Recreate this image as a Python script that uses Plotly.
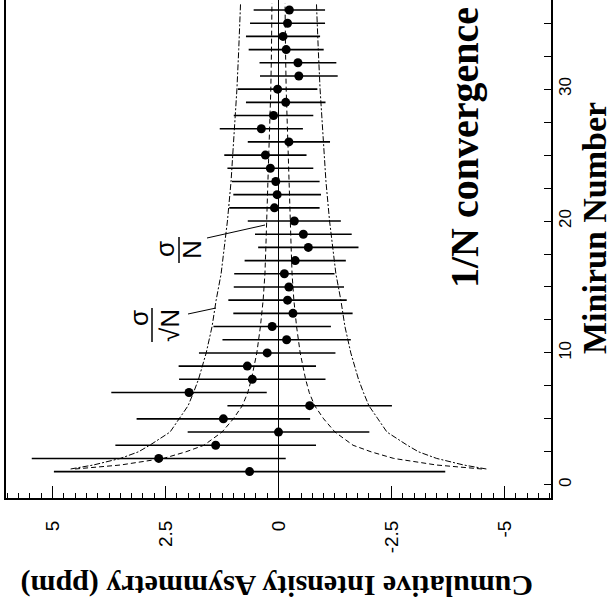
import plotly.graph_objects as go

# ---- data ----
minirun = list(range(1, 37))
asym = [0.64, 2.65, 1.39, 0.00, 1.22, -0.69, 1.98, 0.58, 0.69, 0.25,
        -0.18, 0.14, -0.32, -0.20, -0.23, -0.13, -0.37, -0.66, -0.55, -0.35,
        0.09, 0.03, 0.06, 0.18, 0.29, -0.23, 0.38, 0.11, -0.16, 0.02,
        -0.45, -0.43, -0.17, -0.10, -0.20, -0.24]
asym_err = [4.33, 2.81, 2.22, 2.01, 1.92, 1.82, 1.72, 1.62, 1.52, 1.51,
            1.42, 1.30, 1.32, 1.31, 1.22, 1.11, 1.12, 1.11, 1.07, 1.03,
            1.00, 0.97, 0.97, 0.95, 0.91, 0.91, 0.92, 0.88, 0.88, 0.88,
            0.86, 0.85, 0.83, 0.82, 0.83, 0.79]

# envelope curves (half widths)
curve_n = [1.2, 1.5, 2, 2.5, 3, 4, 5, 6, 7, 8, 10, 12, 14, 16, 18, 20, 23, 26, 30, 33, 36.5]
sqrt_env = [4.6, 4.1, 3.5, 3.1, 2.85, 2.4, 2.2, 2.0, 1.88, 1.77, 1.6, 1.47, 1.38, 1.27, 1.2,
            1.13, 1.05, 0.99, 0.92, 0.88, 0.84]
lin_env = [4.5, 3.5, 2.55, 2.05, 1.65, 1.25, 1.0, 0.8, 0.68, 0.6, 0.48, 0.4, 0.34, 0.3, 0.28,
           0.26, 0.23, 0.2, 0.17, 0.155, 0.145]

x_tickvals = [5, 2.5, 0, -2.5, -5]
x_ticktext = ["5", "2.5", "0", "-2.5", "-5"]
y_tickvals = [0, 10, 20, 30]
y_ticktext = ["0", "10", "20", "30"]

# ---- layout geometry ----
W, H = 612, 604
L, R, T, B = 6, 61, 0, 106
PW, PH = W - L - R, H - T - B


def px(x):
    return (x - L) / PW


def py(y):
    return (H - B - y) / PH


fig = go.Figure()

line_col = "black"
for sgn in (1, -1):
    fig.add_trace(go.Scatter(x=[sgn * v for v in sqrt_env], y=curve_n, mode="lines",
                             line=dict(color=line_col, width=1, dash="6px,2px,2px,2px"),
                             hoverinfo="skip", showlegend=False))
    fig.add_trace(go.Scatter(x=[sgn * v for v in lin_env], y=curve_n, mode="lines",
                             line=dict(color=line_col, width=1, dash="5px,3px"),
                             hoverinfo="skip", showlegend=False))

fig.add_trace(go.Scatter(
    x=asym, y=minirun, mode="markers",
    marker=dict(color="black", size=9, symbol="circle"),
    error_x=dict(type="data", array=asym_err, symmetric=True, color="black",
                 thickness=1.6, width=0),
    showlegend=False))

sans = "Liberation Sans, Arial, sans-serif"
serif = "Liberation Serif, Times New Roman, serif"
xtick_font = dict(family=sans, size=19, color="black")
ytick_font = dict(family=sans, size=17, color="black")

fig.update_layout(
    width=W, height=H,
    margin=dict(l=L, r=R, t=T, b=B, autoexpand=False),
    paper_bgcolor="white", plot_bgcolor="white",
    showlegend=False,
    xaxis=dict(range=[6.03, -6.03], tickmode="array", tickvals=x_tickvals, ticktext=x_ticktext,
               ticks="inside", ticklen=12, tickwidth=1, tickcolor="black",
               minor=dict(tickmode="linear", tick0=0, dtick=0.25, ticks="inside",
                          ticklen=5, tickwidth=1, tickcolor="black"),
               showline=True, linecolor="black", linewidth=2, mirror=False,
               zeroline=True, zerolinecolor="black", zerolinewidth=1.3,
               showgrid=False, tickangle=-90, tickfont=xtick_font, ticklabelstandoff=13),
    yaxis=dict(range=[-1, 36.76], side="right", tickmode="array", tickvals=y_tickvals,
               ticktext=y_ticktext,
               ticks="inside", ticklen=7, tickwidth=1, tickcolor="black",
               minor=dict(tickmode="linear", tick0=0, dtick=2.5, ticks="inside",
                          ticklen=7, tickwidth=1, tickcolor="black"),
               showline=True, linecolor="black", linewidth=2, mirror=True,
               zeroline=False, showgrid=False, tickangle=-90, tickfont=ytick_font,
               ticklabelstandoff=-2),
)

ann = []
ann.append(dict(x=px(277), y=py(586), xref="paper", yref="paper", showarrow=False,
                text="<b>Cumulative Intensity Asymmetry (ppm)</b>", textangle=180,
                font=dict(family=serif, size=30, color="black"),
                xanchor="center", yanchor="middle"))
ann.append(dict(x=px(594), y=py(228), xref="paper", yref="paper", showarrow=False,
                text="<b>Minirun Number</b>", textangle=-90,
                font=dict(family=serif, size=34, color="black"),
                xanchor="center", yanchor="middle"))
ann.append(dict(x=px(464), y=py(148), xref="paper", yref="paper", showarrow=False,
                text="<b>1/N convergence</b>", textangle=-90,
                font=dict(family=serif, size=40, color="black"),
                xanchor="center", yanchor="middle"))
# sigma/sqrt(N) label
ann.append(dict(x=px(139), y=py(318), xref="paper", yref="paper", showarrow=False,
                text="σ", textangle=-90, font=dict(family=sans, size=26, color="black"),
                xanchor="center", yanchor="middle"))
ann.append(dict(x=px(170), y=py(326), xref="paper", yref="paper", showarrow=False,
                text="√N", textangle=-90, font=dict(family=sans, size=26, color="black"),
                xanchor="center", yanchor="middle"))
# sigma/N label
ann.append(dict(x=px(165), y=py(249), xref="paper", yref="paper", showarrow=False,
                text="σ", textangle=-90, font=dict(family=sans, size=26, color="black"),
                xanchor="center", yanchor="middle"))
ann.append(dict(x=px(192), y=py(250), xref="paper", yref="paper", showarrow=False,
                text="N", textangle=-90, font=dict(family=sans, size=26, color="black"),
                xanchor="center", yanchor="middle"))
fig.update_layout(annotations=ann)

shp = []
# fraction bars
shp.append(dict(type="line", xref="paper", yref="paper", x0=px(152), x1=px(152),
                y0=py(308), y1=py(342), line=dict(color="black", width=1.5)))
shp.append(dict(type="line", xref="paper", yref="paper", x0=px(179), x1=px(179),
                y0=py(237), y1=py(263), line=dict(color="black", width=1.5)))
# leader lines
shp.append(dict(type="line", xref="paper", yref="paper", x0=px(188), x1=px(216),
                y0=py(314), y1=py(308), line=dict(color="black", width=1)))
shp.append(dict(type="line", xref="paper", yref="paper", x0=px(207), x1=px(265),
                y0=py(238), y1=py(225), line=dict(color="black", width=1)))
fig.update_layout(shapes=shp)

fig.write_html("out.html")
